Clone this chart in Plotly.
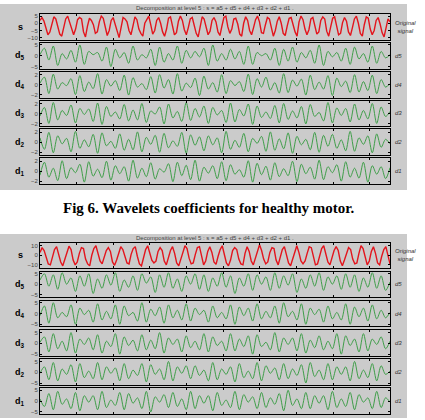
import plotly.graph_objects as go

# ---------------- data ----------------
row_names = ["s", "d5", "d4", "d3", "d2", "d1"]
right_labels = ["Original<br>signal", "d5", "d4", "d3", "d2", "d1"]
x_ticks = [100, 200, 300, 400, 500, 600, 700, 800, 900]
n_samples = 955

top_title = "Decomposition at level 5 : s = a5 + d5 + d4 + d3 + d2 + d1 ."
bottom_title = "Decomposition at level 5 : s = a5 + d5 + d4 + d3 + d2 + d1 ."
caption = "Fig 6. Wavelets coefficients for healthy motor."

top_s = [2, 4, 1.5, -4, -8, -6, 0, 4.5, 3, -2, -7.5, -9, -3, 3, 5, 0.5, -5, -8, -4, 2.5,
         4, 3, -6, -9.5, -2, 3.5, 2, -1, -7, -6, 1, 5, 3.5, -3, -8.5, -5, 2, 4, -0.5, -6.5,
         -10, -3, 4, 3, 1, -5, -8, -2, 4.5, 2.5, -4, -7, -9, 0, 3, 5, -1, -7.5, -5, 2,
         4, 0, -6, -9, -4, 3.5, 4.5, -2, -8, -6.5, 1.5, 5, 2, -4.5, -8, -3, 3, 4, -1.5, -7,
         -9.5, -1, 4.5, 3, -3, -8, -5.5, 2, 4, 1, -6, -8.5, -2, 4, 5, -2.5, -7, -4, 3, 3.5,
         -0.5, -7.5, -9, 0, 4.5, 2, -5, -8, -3, 2.5, 5, 1, -6.5, -7, -1, 4, 3, -3.5, -9, -5,
         1.5, 4.5, 0, -7, -8.5, -2, 3.5, 4, -2, -6, -9, 1, 5, 2.5, -4, -8, -4.5, 3, 4, -1,
         -7.5, -6, 2, 4.5, 3, -5.5, -9, -2.5, 3.5, 4.5, -1.5, -8, -7, 0.5, 4, 1.5, -6, -8.5, -3, 3,
         5, 0, -7, -9, -1, 4.5, 3.5, -4, -8, -5, 2, 4, -0.5, -6.5, -9.5, -2, 3, 1]
top_d5 = [0.5, 3.5, -2, 4.5, -4.5, 1, -1.5, 2.5, -3, 5, -4, 2, 0.5, 1.5, -2.5, 4, -5, 3, -1, 1.5,
          -3.5, 4.5, -2, 0.5, -1, 3, -4.5, 4, -3, 1, -2, 4.5, -3.5, 2.5, -1, 2, -0.5, 3.5, -4.5, 5,
          -2.5, 1, -2, 3, -1.5, 2, -4, 4.5, -4, 1.5, 0, 1, -2, 3.5, -4.5, 3, -2.5, 4, -3, 1.5,
          -1, 2.5, -3.5, 5, -4.5, 2, -0.5, 1.5, -2.5, 3.5, -4, 4, -1.5, 1, -3, 4.5, -3.5, 2, -1, 0.5]
top_d4 = [0.3, 1.5, -1.8, 2.1, -0.9, 0.4, -0.2, 1.2, -2, 1.8, -1.4, 0.5, -0.8, 2.2, -1.9, 1,
          -0.3, 0.8, -1.2, 1.9, -2.1, 1.4, -0.5, 0.2, -1, 1.6, -1.7, 2, -0.7, 1, -1.9, 2.2,
          -1.3, 0.3, -0.6, 1.3, -2.2, 1.7, -0.9, 0.4, -1.5, 2, -1.8, 0.8, -0.2, 0.6, -1.4, 2.1,
          -2, 1.2, -0.5, 1.5, -1.1, 0.4, -1.7, 2.2, -1.6, 0.9, -0.3, 1.1, -2.1, 1.9, -1, 0.5,
          -0.9, 1.8, -2.2, 1.3, -0.4, 0.7, -1.6, 2, -1.5, 0.6, -1.2, 1.9, -1.8, 1, -0.5, 0.2]
top_d3 = [-0.5, 1.2, -2, 2.2, -1.3, 0.6, -0.4, 1.7, -1.9, 1, -0.2, 0.9, -1.6, 2.1, -2.2, 1.4,
          -0.6, 0.3, -1.1, 1.8, -1.5, 0.7, -1.3, 2, -1.8, 0.5, -0.1, 1.3, -2.1, 1.9, -0.9, 0.4,
          -1.6, 2.2, -1.4, 1, -0.7, 1.5, -2, 1.2, -0.3, 0.6, -1.8, 2.1, -1.7, 0.8, -0.5, 1.9,
          -2.2, 1.5, -0.8, 0.3, -1, 1.6, -1.9, 2, -1.2, 0.5, -0.9, 1.4, -2.1, 1.8, -0.6, 0.2,
          -1.5, 2.2, -1.9, 1.1, -0.4, 1, -1.7, 1.9, -1.3, 0.6, -1.1, 2, -2, 1.3, -0.6, 0.4]
top_d2 = [0.9, -1.4, 2, -2.1, 1.3, -0.3, 0.8, -1.9, 2.2, -1.2, 0.5, -0.9, 1.6, -2.2, 1.9, -0.7,
          0.2, -1.2, 1.7, -1.6, 0.6, -1.5, 2.1, -1.9, 1, -0.4, 1.4, -2, 1.8, -1.1, 0.3, -0.8,
          2, -2.2, 1.5, -0.6, 1.1, -1.7, 1.3, -0.5, 0.9, -2.1, 2.2, -1.4, 0.4, -1, 1.8, -1.9,
          0.8, -0.2, 1.2, -1.8, 2.1, -1.6, 0.7, -1.3, 1.9, -2.2, 1.2, -0.5, 0.6, -1.5, 2, -2,
          1.4, -0.8, 1.6, -1.2, 0.5, -1.7, 2.2, -1.8, 0.9, -0.4, 1.3, -2.1, 1.7, -1, 0.6, -0.3]
top_d1 = [-0.8, 1.8, -1.2, 0.6, -1.9, 2.1, -1.5, 0.7, -0.3, 1.4, -2.2, 1.9, -1, 0.4, -1.3, 2,
          -1.8, 1.1, -0.5, 0.9, -2, 2.2, -1.4, 0.6, -1.1, 1.7, -1.6, 0.5, -0.2, 1.5, -2.1, 1.8,
          -0.9, 1.2, -1.7, 2.2, -2, 0.8, -0.4, 1.1, -1.5, 1.9, -1.9, 1.3, -0.6, 0.3, -1.2, 2.1,
          -2.2, 1.6, -0.7, 1, -1.8, 1.7, -1.1, 0.5, -0.9, 2, -2.1, 1.4, -0.5, 0.8, -1.6, 2.2,
          -1.7, 0.9, -0.3, 1.3, -2, 1.9, -1.2, 0.6, -1.4, 1.8, -2.2, 1.1, -0.6, 0.9, -1.5, 0.7]

bot_s = [3, 8, 5, -3, -9, -10, -2, 6, 9, 1, -7, -11, -4, 4, 9.5, 6, -5, -10, -7, 2,
         8, 7, -4, -9, -11, 0, 7, 10, 2, -6, -9, -3, 5, 8, 4, -7, -10.5, -5, 3, 9,
         6, -2, -8, -9, 1, 7, 9, -1, -9, -11, -3, 6, 10, 3, -5, -8, -6, 4, 8, 5,
         -6, -10, -2, 5, 9, 2, -8, -11, -4, 3, 10, 7, -3, -9, -8, 1, 8, 9, -2, -10,
         -6, 4, 9, 3, -7, -9.5, -1, 6, 10, 0, -8, -11, -5, 5, 8, 6, -4, -9, -10, 2,
         9, 4, -6, -10, -3, 4, 11, 5, -4, -9, -7, 3, 8, 7, -5, -10, -2, 6, 9, 1,
         -8, -11, -4, 5, 10, 3, -6, -9, -6, 2, 9, 8, -3, -10, -9, 0, 7, 10, 1, -7,
         -10, -3, 5, 9, 5, -6, -11, -5, 3, 8, 6, -4, -9, -8, 2, 10, 7, -2, -10, -6,
         4, 9, 2, -8, -10, -1, 6, 9, 0, -9]
bot_d5 = [2, 5, -1, 4.5, -2.5, 5.5, 0, 3, -3.5, 4, -1, 5, -4.5, 2.5, -2, 4.5, -0.5, 5.5, -3.5, 2,
          -1.5, 4, -3, 5, 0.5, 3.5, -4, 4.5, -1.5, 5.5, -2, 2.5, -3.5, 4, 0, 5, -2.5, 4.5, -3.5, 3,
          -1, 5.5, -1.5, 4, -4.5, 3, -1, 5, -3, 4.5, 0, 3.5, -3, 5.5, -2, 4, -0.5, 5, -4, 2.5,
          -2, 4.5, -1, 5.5, -3, 3.5, 0, 4, -2.5, 5, -1.5, 4.5, -3.5, 3, -1.5, 5.5, -2, 4, -3, 1]
bot_d4 = [-1, 3.5, -4.5, 5, -2, 0.5, -1.5, 4, -5, 2.5, -0.5, 1.5, -4, 4.5, -3, 1, -2.5, 4, -5, 3.5,
          -1, 0.5, -3.5, 5, -4, 2, -1, 3, -4.5, 4, -2, 1.5, -3, 4.5, -3.5, 2.5, -0.5, 1.5, -4, 3.5,
          -2, 0.5, -2.5, 4, -5, 3, -1, 2.5, -3.5, 4.5, -2.5, 1, -2, 3.5, -4.5, 5, -1.5, 1, -3, 4.5,
          -5, 2.5, -0.5, 2, -4, 3.5, -2.5, 0.5, -3, 4.5, -5, 3, -1.5, 2.5, -3.5, 4, -2.5, 1.5, -2, 0.5]
bot_d3 = [0.5, 3, -4, 4.5, -2.5, 1, -3.5, 5, -4.5, 2, -0.5, 2.5, -3, 4, -4.5, 1, -1.5, 4.5, -5, 3,
          -1, 1.5, -3.5, 4, -3, 1.5, -2.5, 5, -4.5, 2.5, -0.5, 2, -4, 3.5, -2, 1, -3, 4.5, -4, 3,
          -1, 1, -3.5, 4.5, -3.5, 2, -1.5, 3.5, -5, 4, -1.5, 0.5, -3, 5, -4, 2.5, -0.5, 2.5, -3.5, 4.5,
          -4.5, 1.5, -2, 3.5, -3, 1, -2.5, 4.5, -5, 3.5, -1, 2, -4, 4.5, -3.5, 2, -0.5, 3, -2.5, 1]
bot_d2 = [-0.5, 2.5, -3.5, 4.5, -4, 1.5, -1, 3.5, -4.5, 4, -2.5, 0.5, -3, 4.5, -3.5, 2.5, -0.5, 2, -4, 4,
          -3, 1, -1.5, 4, -4.5, 3.5, -1, 1.5, -3.5, 5, -4, 2.5, -0.5, 3, -3, 3, -1.5, 1, -4, 4.5,
          -3.5, 1.5, -1, 2.5, -4.5, 4, -2.5, 0.5, -3, 4.5, -4, 3, -0.5, 2, -3.5, 4, -3, 1.5, -1.5, 3.5,
          -5, 4.5, -2, 1, -3.5, 4, -3.5, 2.5, -1, 2.5, -4, 5, -3, 1, -2.5, 4, -4, 3, -1, 0.5]
bot_d1 = [1, -2.5, 3.5, -4, 4.5, -1.5, 1, -3.5, 4, -4.5, 2.5, -0.5, 2.5, -4, 4.5, -3, 0.5, -2, 4, -4,
          3.5, -1, 1.5, -3.5, 4.5, -5, 2, -0.5, 3, -3, 4, -2.5, 1, -4, 4.5, -3.5, 2.5, -1, 2.5, -4.5,
          4, -2, 0.5, -3, 4.5, -4, 3, -0.5, 2, -3.5, 4, -3, 1.5, -1.5, 3.5, -4.5, 5, -2, 1, -3.5,
          4, -3.5, 2.5, -1, 2.5, -4, 4.5, -3, 1, -2.5, 4, -4, 3, -0.5, 1.5, -3.5, 4.5, -3, 1.5, -0.5]

top_series = [top_s, top_d5, top_d4, top_d3, top_d2, top_d1]
bot_series = [bot_s, bot_d5, bot_d4, bot_d3, bot_d2, bot_d1]

top_ranges = [[-11.5, 6.5], [-6, 6], [-2.6, 2.6], [-2.6, 2.6], [-2.6, 2.6], [-2.6, 2.6]]
top_ticks = [[5, 0, -5, -10], [5, 0, -5], [2, 0, -2], [2, 0, -2], [2, 0, -2], [2, 0, -2]]
bot_ranges = [[-13, 13], [-6, 6], [-6, 6], [-6, 6], [-6, 6], [-6, 6]]
bot_ticks = [[10, 0, -10], [5, 0, -5], [5, 0, -5], [5, 0, -5], [5, 0, -5], [5, 0, -5]]

# ---------------- layout geometry (pixels) ----------------
W, H = 425, 420
PX0, PX1 = 40, 390
top_rows_px = [(13, 39), (42, 68), (71, 97), (100, 126), (129, 155), (158, 184)]
bot_rows_px = [(243, 268), (272, 297), (301, 327), (331, 357), (360, 386), (389, 415)]

RED = "#e3141c"
GREEN = "#3f9e49"
FONT = "Liberation Sans"

def fx(px):
    return px / W

def fy(py):
    return 1 - py / H

fig = go.Figure()
layout = dict(
    width=W, height=H, autosize=False,
    margin=dict(l=0, r=0, t=0, b=0),
    paper_bgcolor="white", plot_bgcolor="white",
    showlegend=False,
    font=dict(family=FONT, size=6, color="#333"),
)
annotations = []
shapes = [
    dict(type="rect", xref="paper", yref="paper", x0=fx(0), x1=fx(407), y0=fy(190), y1=fy(3),
         fillcolor="#cbcbcb", line=dict(width=0), layer="below"),
    dict(type="rect", xref="paper", yref="paper", x0=fx(0), x1=fx(407), y0=fy(419), y1=fy(234),
         fillcolor="#cbcbcb", line=dict(width=0), layer="below"),
]

idx = 0
for panel, (series_list, rows_px, ranges, ticks) in enumerate([
        (top_series, top_rows_px, top_ranges, top_ticks),
        (bot_series, bot_rows_px, bot_ranges, bot_ticks)]):
    for r, vals in enumerate(series_list):
        idx += 1
        xa = "x" if idx == 1 else f"x{idx}"
        ya = "y" if idx == 1 else f"y{idx}"
        n = len(vals)
        step = n_samples / (n - 1)
        xs = [i * step for i in range(n)]
        is_s = (r == 0)
        if is_s:
            line = dict(color=RED, width=1.4, shape="linear")
        else:
            line = dict(color=GREEN, width=1, shape="spline", smoothing=0.9)
        fig.add_trace(go.Scatter(x=xs, y=vals, xaxis=xa, yaxis=ya, mode="lines",
                                 line=line, hoverinfo="skip"))
        y0px, y1px = rows_px[r]
        layout["xaxis" if idx == 1 else f"xaxis{idx}"] = dict(
            domain=[fx(PX0), fx(PX1)], range=[0, n_samples], anchor=ya,
            showline=True, linecolor="black", linewidth=1, mirror="ticks",
            ticks="inside", ticklen=2, tickcolor="black", tickvals=x_ticks,
            showticklabels=False, showgrid=False, zeroline=False)
        layout["yaxis" if idx == 1 else f"yaxis{idx}"] = dict(
            domain=[fy(y1px), fy(y0px)], range=ranges[r], anchor=xa,
            showline=True, linecolor="black", linewidth=1, mirror="ticks",
            ticks="inside", ticklen=2, tickcolor="black", tickvals=ticks[r],
            tickfont=dict(size=6, color="#444", family=FONT),
            showgrid=False, zeroline=False)
        ymid = fy((y0px + y1px) / 2)
        name = row_names[r]
        label = "<b>s</b>" if name == "s" else f"<b>d<sub>{name[1]}</sub></b>"
        annotations.append(dict(xref="paper", yref="paper", x=fx(20), y=ymid, text=label,
                                showarrow=False, xanchor="center", yanchor="middle",
                                font=dict(size=9, color="black", family=FONT)))
        annotations.append(dict(xref="paper", yref="paper", x=fx(393), y=ymid,
                                text=f"<i>{right_labels[r]}</i>",
                                showarrow=False, xanchor="left", yanchor="middle",
                                font=dict(size=6, color="#333", family=FONT)))

annotations.append(dict(xref="paper", yref="paper", x=fx(215), y=fy(7), text=top_title,
                        showarrow=False, xanchor="center", yanchor="middle",
                        font=dict(size=6, color="#444", family=FONT)))
annotations.append(dict(xref="paper", yref="paper", x=fx(215), y=fy(238), text=bottom_title,
                        showarrow=False, xanchor="center", yanchor="middle",
                        font=dict(size=6, color="#444", family=FONT)))
annotations.append(dict(xref="paper", yref="paper", x=fx(209), y=fy(208),
                        text=f"<b>{caption}</b>", showarrow=False,
                        xanchor="center", yanchor="middle",
                        font=dict(size=15, color="black", family="Liberation Serif")))

layout["annotations"] = annotations
layout["shapes"] = shapes
fig.update_layout(**layout)
fig.write_html("out.html")
